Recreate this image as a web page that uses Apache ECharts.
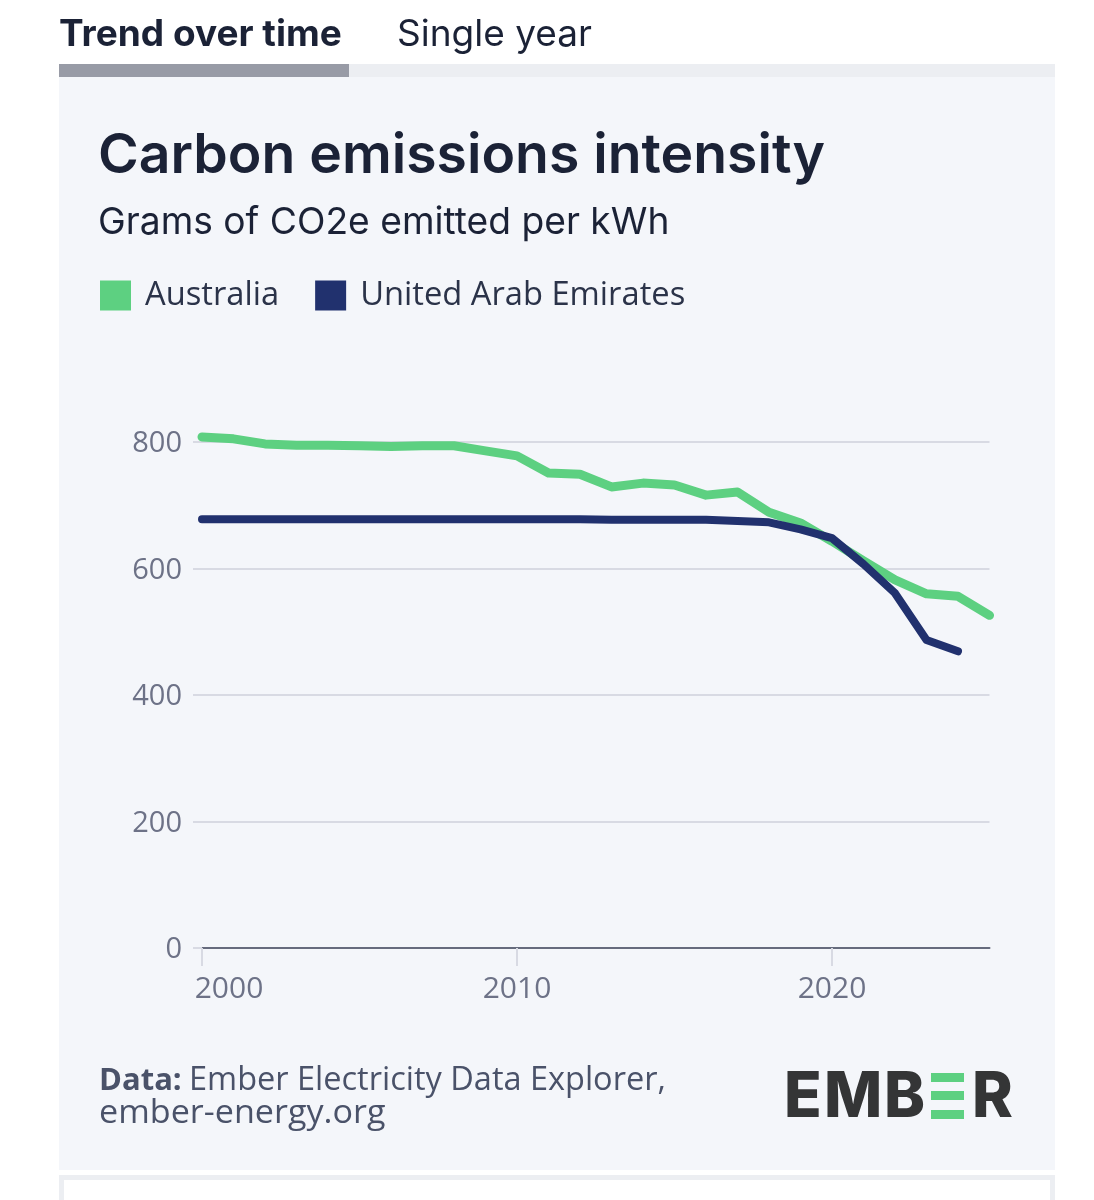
<!DOCTYPE html>
<html><head><meta charset="utf-8">
<style>html,body{margin:0;padding:0;background:#fff}#c{width:1094px;height:1200px}</style>
<script src="https://cdn.jsdelivr.net/npm/echarts@6/dist/echarts.min.js"></script>
</head><body><div id="c"></div>
<script>
const years = [2000,2001,2002,2003,2004,2005,2006,2007,2008,2009,2010,2011,2012,2013,2014,2015,2016,2017,2018,2019,2020,2021,2022,2023,2024,2025];
const australia = [808,805,797,795,795,794,793,794,794,786,778,751,749,729,735,732,716,721,689,672,643,612,582,560,556,526];
const uae = [678,678,678,678,678,678,678,678,678,678,678,678,678,677,677,677,677,675,673,662,648,607,561,487,469];
const xTicks = [2000,2010,2020];
const seriesNames = ['Australia','United Arab Emirates'];
const titleText = 'Carbon emissions intensity';
const subtitleText = 'Grams of CO2e emitted per kWh';
const GREEN='#5dd081', NAVY='#21316e', INK='#1b2236', MUTED='#6d7287', SLATE='#4a5269';
const SANS='Open Sans', HEAD='Inter', LOGO='#343536';
const chart = echarts.init(document.getElementById('c'), null, {renderer:'canvas'});
const toPairs = a => a.map((v,i)=>[years[i],v]);
function rect(x,y,w,h,fill,z){return {type:'rect',shape:{x:x,y:y,width:w,height:h},style:{fill:fill},z:z===undefined?-10:z,silent:true};}
function txt(x,y,t,size,weight,fill,font,sx){return {type:'text',x:x,y:y,scaleX:sx||1,style:{text:t,fontSize:size,fontWeight:weight,fill:fill,fontFamily:font||SANS,textVerticalAlign:'middle'},z:5,silent:true};}
chart.setOption({
  animation:false,
  backgroundColor:'#ffffff',
  title:{text:titleText,subtext:subtitleText,left:93,top:120,itemGap:14,
    textStyle:{fontFamily:HEAD,fontSize:55.3,fontWeight:600,color:INK,lineHeight:62},
    subtextStyle:{fontFamily:HEAD,fontSize:37.2,fontWeight:400,color:INK,lineHeight:44}},
  legend:{left:95,top:274,itemWidth:31,itemHeight:30,itemGap:36,icon:'rect',
    data:seriesNames,
    textStyle:{fontFamily:SANS,fontSize:32.7,color:'#2b3349',padding:[2,0,0,9]}},
  grid:{left:202,right:104.5,top:442,bottom:252,containLabel:false},
  xAxis:{type:'value',min:2000,max:2025,interval:10,
    axisLine:{show:true,onZero:false,lineStyle:{color:'#666b7d',width:2}},
    axisTick:{show:true,length:18,customValues:xTicks,lineStyle:{color:'#d8dae3',width:2}},
    splitLine:{show:false},
    axisLabel:{margin:26,color:MUTED,fontFamily:SANS,fontSize:30,customValues:xTicks,
      formatter:v=>v===2000?'{a|2000}':String(v),
      rich:{a:{padding:[0,0,0,54],fontFamily:SANS,fontSize:30,color:MUTED}}}},
  yAxis:{type:'value',min:0,max:800,interval:200,
    axisLine:{show:false},
    axisTick:{show:true,length:9,lineStyle:{color:'#d8dae3',width:2}},
    splitLine:{show:true,lineStyle:{color:'#d8dae3',width:2}},
    axisLabel:{margin:20,color:MUTED,fontFamily:SANS,fontSize:29,
      formatter:v=>'{n|'+v+'}',
      rich:{n:{padding:[4,0,0,0],fontFamily:SANS,fontSize:29,color:MUTED}}}},
  series:[
    {name:seriesNames[0],type:'line',data:toPairs(australia),showSymbol:false,clip:false,z:3,
      itemStyle:{color:GREEN},lineStyle:{color:GREEN,width:9,cap:'round',join:'round'}},
    {name:seriesNames[1],type:'line',data:toPairs(uae),showSymbol:false,clip:false,z:4,
      itemStyle:{color:NAVY},lineStyle:{color:NAVY,width:8,cap:'round',join:'round'}}
  ],
  graphic:{elements:[
    rect(59,77,996,1093,'#f4f6fa'),
    rect(59,64,290,13,'#989ba6'),
    rect(349,64,706,13,'#eceef2'),
    rect(59,1175,996,25,'#eceef2'),
    rect(64,1180,986,20,'#ffffff',-9),
    txt(59,35,'Trend over time',37,700,INK,HEAD),
    txt(397,35,'Single year',37,400,INK,HEAD),
    txt(99,1081,'Data:',31,700,SLATE),
    txt(189,1081,'Ember Electricity Data Explorer,',32.5,400,SLATE),
    txt(99,1114,'ember-energy.org',32.5,400,SLATE,SANS,1.05),
    txt(784,1098,'E',63,800,LOGO,HEAD,0.98),
    txt(824,1098,'M',63,800,LOGO,HEAD,0.98),
    txt(884,1098,'B',63,800,LOGO,HEAD,0.98),
    rect(931,1073,33,9,GREEN,5),
    rect(931,1091,33,9,GREEN,5),
    rect(931,1110,33,9,GREEN,5),
    txt(972,1098,'R',63,800,LOGO,HEAD,0.98)
  ]}
});
</script></body></html>
